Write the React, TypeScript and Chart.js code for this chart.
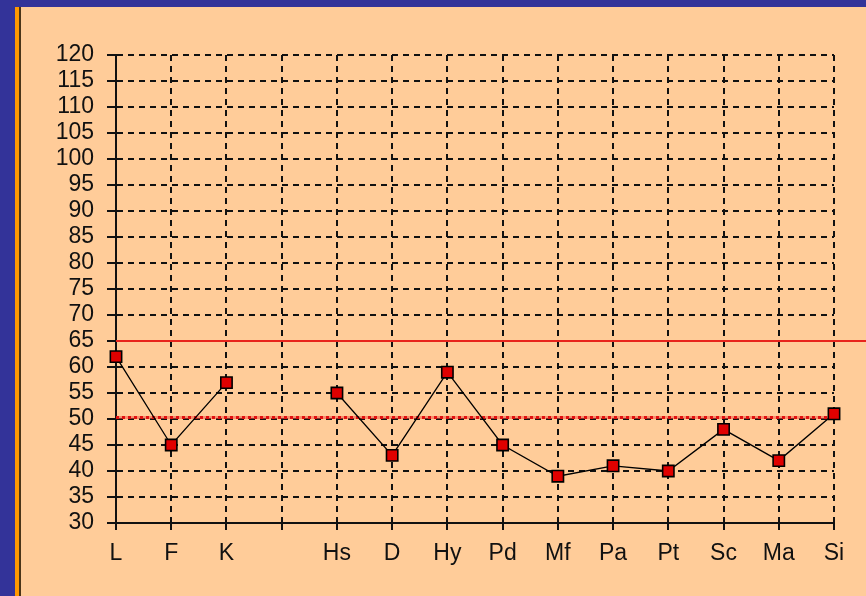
import React, { useEffect, useRef } from "react";
import { Chart, registerables } from "chart.js";

Chart.register(...registerables);

const categories = ["L", "F", "K", "", "Hs", "D", "Hy", "Pd", "Mf", "Pa", "Pt", "Sc", "Ma", "Si"];
const scores: (number | null)[] = [62, 45, 57, null, 55, 43, 59, 45, 39, 41, 40, 48, 42, 51];
const yMin = 30;
const yMax = 120;
const yStep = 5;
const upperLimit = 65;
const meanLine = 50;

const FONT = "'Liberation Sans', Arial, sans-serif";

const backgroundPlugin = {
  id: "bgFrame",
  beforeDraw(chart: any) {
    const { ctx, width, height } = chart;
    ctx.save();
    ctx.fillStyle = "#333399";
    ctx.fillRect(0, 0, width, height);
    ctx.fillStyle = "#FFCC99";
    ctx.fillRect(21, 7, width - 21, height - 7);
    ctx.fillStyle = "#FF9900";
    ctx.fillRect(15, 7, 4, height - 7);
    ctx.fillStyle = "#4a3418";
    ctx.fillRect(19, 7, 2, height - 7);
    ctx.restore();
  },
};

const refLinesPlugin = {
  id: "refLines",
  beforeDatasetsDraw(chart: any) {
    const { ctx, chartArea, scales, width } = chart;
    const y65 = scales.y.getPixelForValue(upperLimit);
    const y50 = scales.y.getPixelForValue(meanLine) - 1.5;
    ctx.save();
    ctx.strokeStyle = "#e8241c";
    ctx.lineWidth = 2;
    ctx.beginPath();
    ctx.moveTo(chartArea.left, y65);
    ctx.lineTo(width, y65);
    ctx.stroke();
    ctx.lineWidth = 3;
    ctx.strokeStyle = "rgba(240,90,70,0.55)";
    ctx.beginPath();
    ctx.moveTo(chartArea.left, y50);
    ctx.lineTo(chartArea.right + 4, y50);
    ctx.stroke();
    ctx.setLineDash([3, 3]);
    ctx.strokeStyle = "#e01010";
    ctx.beginPath();
    ctx.moveTo(chartArea.left, y50);
    ctx.lineTo(chartArea.right + 4, y50);
    ctx.stroke();
    ctx.restore();
  },
};

export default function App() {
  const ref = useRef<HTMLCanvasElement | null>(null);

  useEffect(() => {
    if (!ref.current) return;
    const chart = new Chart(ref.current, {
      type: "line",
      data: {
        labels: categories,
        datasets: [
          {
            data: scores,
            borderColor: "#000",
            borderWidth: 1.3,
            pointStyle: "rect",
            pointRadius: 8,
            pointHoverRadius: 8,
            pointBackgroundColor: "#e00000",
            pointBorderColor: "#000",
            pointBorderWidth: 1.6,
            spanGaps: false,
            tension: 0,
            fill: false,
          },
        ],
      },
      options: {
        responsive: false,
        devicePixelRatio: 1,
        animation: false,
        events: [],
        layout: { padding: { left: 0, top: 55, right: 32, bottom: 0 } },
        plugins: {
          legend: { display: false },
          tooltip: { enabled: false },
          title: { display: false },
        },
        scales: {
          x: {
            type: "category",
            offset: false,
            afterFit(scale: any) {
              scale.height = 73;
            },
            grid: {
              color: "#111",
              lineWidth: 2,
              drawTicks: true,
              tickLength: 7,
              tickColor: "#111",
              tickWidth: 2,
            },
            border: { display: true, color: "#111", width: 2, dash: [6, 5] },
            ticks: {
              autoSkip: false,
              maxRotation: 0,
              padding: 10,
              color: "#111",
              font: { family: FONT, size: 23 },
            },
          },
          y: {
            type: "linear",
            min: yMin,
            max: yMax,
            afterFit(scale: any) {
              scale.width = 116;
            },
            grid: {
              color: "#111",
              lineWidth: 2,
              drawTicks: true,
              tickLength: 9,
              tickColor: "#111",
              tickWidth: 2,
            },
            border: { display: true, color: "#111", width: 2, dash: [6, 5] },
            ticks: {
              stepSize: yStep,
              autoSkip: false,
              padding: 13,
              color: "#111",
              font: { family: FONT, size: 23 },
            },
          },
        },
      },
      plugins: [backgroundPlugin, refLinesPlugin],
    } as any);
    return () => chart.destroy();
  }, []);

  return (
    <div style={{ position: "fixed", left: 0, top: 0, width: 866, height: 596 }}>
      <canvas ref={ref} width={866} height={596} style={{ display: "block" }} />
    </div>
  );
}
